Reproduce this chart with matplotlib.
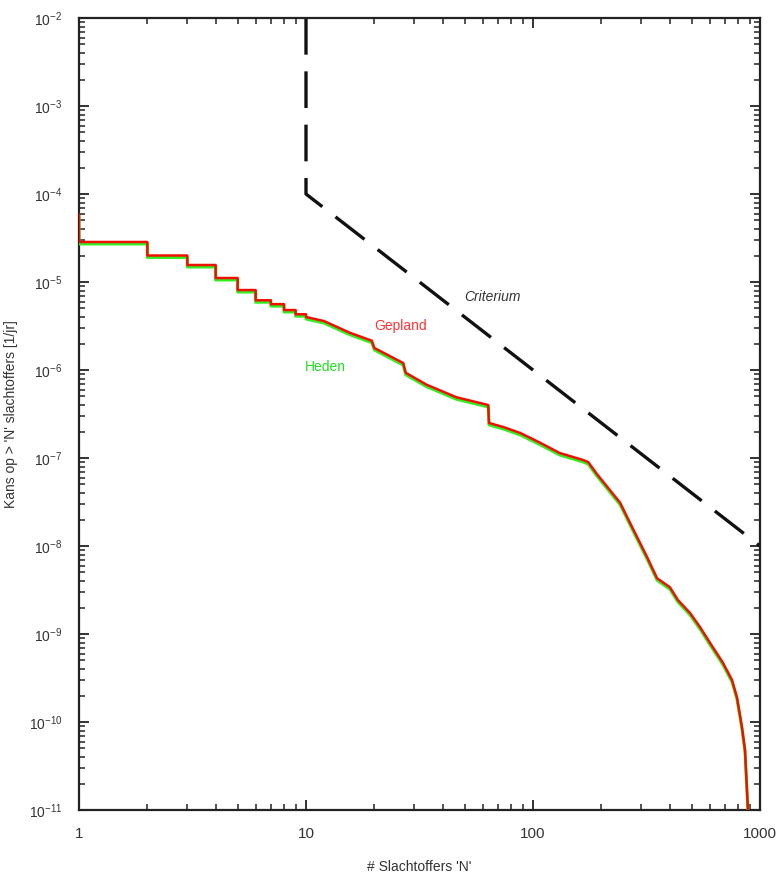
import numpy as np
import matplotlib
matplotlib.use("Agg")
import matplotlib.pyplot as plt
from matplotlib.ticker import LogLocator, FixedLocator, FuncFormatter, NullFormatter

plt.rcParams['font.family'] = ['Liberation Sans Narrow', 'Liberation Sans', 'DejaVu Sans']
plt.rcParams['mathtext.fontset'] = 'custom'
plt.rcParams['mathtext.rm'] = 'Liberation Sans'
plt.rcParams['axes.unicode_minus'] = False

# FN curve vertices (N, P)
curve_N = [1, 1, 2, 2, 3, 3, 4, 4, 5, 5, 6, 6, 7, 7, 8, 8, 9, 9, 10, 10,
           12, 15.6, 19.5, 20, 26.8, 27.5, 34, 46, 63.5, 64, 74, 88, 107, 131,
           166, 175, 191, 242, 273, 318, 352, 401, 435, 492, 544, 603, 687,
           753, 792, 833, 859, 885]
curve_P = [5.8e-5, 2.85e-5, 2.85e-5, 2.0e-5, 2.0e-5, 1.56e-5, 1.56e-5, 1.11e-5,
           1.11e-5, 8.1e-6, 8.1e-6, 6.2e-6, 6.2e-6, 5.6e-6, 5.6e-6, 4.8e-6,
           4.8e-6, 4.3e-6, 4.3e-6, 4.0e-6,
           3.6e-6, 2.65e-6, 2.15e-6, 1.78e-6, 1.2e-6, 9.3e-7, 6.8e-7, 4.9e-7,
           4.0e-7, 2.5e-7, 2.25e-7, 1.92e-7, 1.5e-7, 1.14e-7, 9.5e-8, 9.0e-8,
           6.6e-8, 3.1e-8, 1.65e-8, 7.5e-9, 4.3e-9, 3.4e-9, 2.43e-9, 1.73e-9,
           1.2e-9, 7.9e-10, 4.7e-10, 3.0e-10, 1.9e-10, 8.7e-11, 4.8e-11, 1e-11]
heden_factor = 0.95  # current situation slightly below planned

crit_N = [10, 10, 1000]
crit_P = [1e-2, 1e-4, 1e-8]

x_ticks = [1, 10, 100, 1000]
x_labels = ['1', '10', '100', '1000']
y_exps = list(range(-11, -1))

fig = plt.figure(figsize=(7.79, 8.8), dpi=100)
ax = fig.add_axes([79/779, 1-810/880, (760-79)/779, (810-18)/880])

ax.set_xscale('log')
ax.set_yscale('log')
ax.set_xlim(1, 1000)
ax.set_ylim(1e-11, 1e-2)

ax.plot(crit_N, crit_P, color='#111111', lw=2.4, dashes=(11, 5), zorder=2)
ax.plot(curve_N, np.array(curve_P) * heden_factor, color='#33ee22', lw=2.2, zorder=3)
ax.plot(curve_N, curve_P, color='#ee1100', lw=1.8, zorder=4)

ax.text(66, 6.7e-6, 'Criterium', style='italic', color='#333333', fontsize=10,
        ha='center', va='center')
ax.text(26, 3.2e-6, 'Gepland', color='#ff3333', fontsize=10, ha='center', va='center')
ax.text(12.2, 1.08e-6, 'Heden', color='#22dd22', fontsize=10, ha='center', va='center')

ax.xaxis.set_major_locator(FixedLocator(x_ticks))
ax.xaxis.set_major_formatter(FuncFormatter(lambda v, p: x_labels[x_ticks.index(round(v))] if round(v) in x_ticks else ''))
ax.xaxis.set_minor_locator(LogLocator(base=10, subs=np.arange(2, 10), numticks=100))
ax.xaxis.set_minor_formatter(NullFormatter())

ax.yaxis.set_major_locator(FixedLocator([10.0**e for e in y_exps]))
ax.yaxis.set_major_formatter(FuncFormatter(lambda v, p: r'10$^{\mathregular{%d}}$' % round(np.log10(v))))
ax.yaxis.set_minor_locator(LogLocator(base=10, subs=np.arange(2, 10), numticks=100))
ax.yaxis.set_minor_formatter(NullFormatter())

ax.tick_params(which='both', direction='in', top=True, right=True, color='#222222')
ax.tick_params(which='major', length=7, width=1.3)
ax.tick_params(which='minor', length=4, width=1.1)
ax.tick_params(axis='x', which='major', pad=12, labelsize=11, labelcolor='#333333')
ax.tick_params(axis='y', which='major', pad=12, labelsize=10, labelcolor='#333333')

for s in ax.spines.values():
    s.set_linewidth(1.6)
    s.set_color('#222222')

ax.set_xlabel("# Slachtoffers 'N'", fontsize=10, color='#333333', labelpad=14)
ax.set_ylabel("Kans op > 'N' slachtoffers [1/jr]", fontsize=10, color='#333333', labelpad=8)

fig.savefig('out.png', dpi=100)
